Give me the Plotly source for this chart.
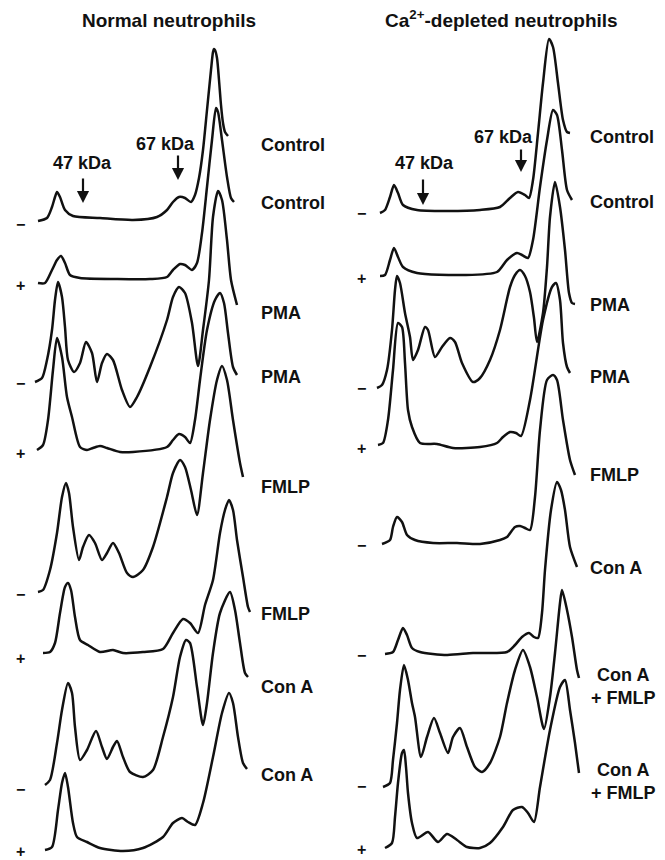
import plotly.graph_objects as go

# ---------------- data: densitometric scans (migration distance, absorbance above baseline) ----------------
# Normal neutrophils
L_labels = ["Control", "Control", "PMA", "PMA", "FMLP", "FMLP", "Con A", "Con A"]
L_signs = ["−", "+", "−", "+", "−", "+", "−", "+"]

L1_x = [38, 47, 52, 55, 57, 60, 65, 73, 100, 133, 157, 167, 173, 179, 185, 191, 195, 199, 203, 207, 211, 213, 214, 215, 217, 219, 221, 223, 225, 228]
L1_h = [0, 3, 14, 24, 29, 24, 11, 5, 3, 1, 4, 11, 19, 24, 23, 19, 26, 43, 71, 111, 151, 169, 172, 171, 163, 141, 116, 98, 89, 85]

L2_x = [38, 45, 52, 57, 61, 65, 70, 80, 117, 150, 167, 173, 180, 185, 192, 197, 202, 207, 212, 216, 218, 222, 227, 231, 234]
L2_h = [0, 0, 13, 23, 27, 20, 8, 5, 4, 4, 6, 13, 19, 18, 13, 20, 50, 96, 143, 175, 171, 143, 106, 85, 81]

L3_x = [35, 42, 47, 52, 55, 58, 62, 65, 68, 74, 80, 86, 92, 97, 102, 107, 113, 122, 130, 137, 150, 167, 173, 179, 185, 192, 198, 203, 209, 213, 218, 222, 227, 231, 237]
L3_h = [0, 4, 22, 52, 82, 100, 85, 55, 22, 10, 19, 40, 29, 0, 19, 28, 22, -8, -25, -15, 15, 62, 85, 95, 89, 59, 16, 52, 102, 165, 191, 182, 142, 102, 77]

L4_x = [37, 43, 48, 53, 57, 62, 67, 72, 80, 87, 93, 100, 107, 120, 133, 167, 173, 179, 185, 190, 195, 200, 207, 215, 220, 224, 228, 233, 237]
L4_h = [0, 5, 30, 80, 112, 93, 53, 33, 3, 0, 2, 4, 2, -2, -2, 3, 10, 16, 13, 7, 30, 70, 120, 150, 157, 147, 117, 83, 75]

L5_x = [38, 43, 50, 57, 62, 66, 69, 73, 79, 83, 89, 95, 102, 107, 113, 119, 127, 133, 143, 153, 167, 173, 180, 185, 191, 197, 203, 210, 217, 222, 227, 233, 240, 243]
L5_h = [0, 2, 22, 59, 95, 109, 99, 65, 32, 45, 57, 49, 32, 39, 49, 39, 19, 15, 22, 45, 95, 119, 132, 125, 102, 77, 119, 172, 212, 226, 212, 172, 129, 115]

L6_x = [43, 50, 55, 60, 65, 68, 71, 75, 80, 88, 100, 113, 123, 143, 163, 173, 183, 190, 198, 205, 213, 220, 225, 229, 233, 237, 243, 248, 250]
L6_h = [0, 1, 10, 40, 66, 70, 63, 36, 13, 8, 1, 3, 0, 1, 4, 20, 34, 30, 20, 48, 73, 120, 143, 153, 143, 113, 76, 46, 41]

L7_x = [45, 50, 57, 62, 68, 72, 75, 80, 87, 96, 102, 107, 113, 117, 123, 130, 143, 153, 163, 173, 180, 186, 190, 197, 203, 207, 213, 220, 230, 235, 240, 245, 248]
L7_h = [0, 5, 42, 75, 102, 92, 58, 25, 35, 54, 38, 26, 38, 44, 28, 13, 8, 15, 48, 88, 128, 145, 142, 98, 60, 82, 132, 172, 193, 175, 142, 112, 108]

L8_x = [45, 52, 58, 62, 65, 68, 73, 77, 87, 100, 123, 143, 163, 173, 182, 188, 195, 203, 213, 222, 229, 233, 238, 243, 247]
L8_h = [0, 3, 40, 67, 77, 63, 27, 13, 8, 2, -1, 2, 13, 27, 32, 28, 25, 47, 93, 137, 157, 147, 113, 87, 81]

# Ca2+-depleted neutrophils
R_labels = ["Control", "Control", "PMA", "PMA", "FMLP", "Con A", "Con A<br>+ FMLP", "Con A<br>+ FMLP"]
R_signs = ["−", "+", "−", "+", "−", "−", "−", "+"]

R1_x = [50, 55, 60, 64, 68, 73, 87, 117, 150, 170, 180, 188, 195, 199, 203, 208, 213, 219, 223, 228, 233, 237, 240]
R1_h = [0, 3, 16, 28, 20, 8, 3, 2, 3, 6, 15, 21, 18, 15, 33, 80, 130, 174, 166, 130, 93, 81, 80]

R2_x = [50, 55, 60, 64, 68, 73, 87, 133, 167, 177, 187, 192, 198, 203, 210, 217, 223, 227, 232, 237, 242]
R2_h = [0, 1, 16, 28, 19, 9, 3, 1, 4, 16, 23, 21, 18, 36, 89, 136, 166, 161, 126, 86, 76]

R3_x = [47, 52, 57, 62, 65, 67, 70, 75, 80, 83, 88, 95, 98, 105, 112, 120, 125, 132, 143, 150, 160, 170, 180, 185, 190, 195, 200, 204, 207, 213, 217, 220, 225, 230, 235, 239, 242, 245]
R3_h = [0, 3, 18, 58, 98, 112, 105, 75, 51, 28, 38, 61, 58, 31, 41, 50, 46, 25, 6, 10, 28, 58, 101, 113, 118, 112, 96, 70, 46, 75, 121, 171, 206, 181, 138, 95, 85, 84]

R4_x = [48, 53, 58, 63, 68, 72, 75, 78, 82, 90, 107, 123, 150, 167, 173, 180, 186, 191, 200, 213, 222, 226, 230, 233, 237, 240]
R4_h = [0, 2, 25, 75, 122, 118, 82, 35, 18, 2, 1, -3, -2, 2, 8, 13, 12, 9, 45, 125, 158, 162, 145, 102, 78, 72]

R5_x = [52, 60, 63, 67, 72, 77, 85, 103, 127, 150, 170, 177, 185, 190, 195, 200, 205, 210, 217, 223, 227, 233, 240, 245]
R5_h = [0, 4, 17, 27, 22, 9, 4, 1, 1, 0, 4, 7, 17, 18, 16, 14, 47, 114, 164, 169, 164, 124, 84, 69]

R6_x = [55, 63, 68, 73, 77, 82, 90, 117, 143, 177, 185, 192, 199, 204, 208, 212, 215, 221, 227, 231, 235, 240, 247]
R6_h = [0, 2, 14, 26, 19, 6, 2, -1, 1, 2, 9, 17, 21, 17, 16, 41, 84, 144, 172, 164, 144, 107, 87]

R7_x = [53, 60, 63, 67, 70, 74, 78, 82, 85, 91, 97, 104, 110, 118, 123, 130, 137, 145, 152, 160, 170, 177, 185, 193, 200, 207, 214, 220, 225, 230, 232, 237, 242, 247, 249]
R7_h = [0, 4, 27, 64, 97, 122, 107, 84, 70, 30, 50, 69, 54, 34, 50, 59, 40, 20, 15, 24, 50, 84, 117, 137, 120, 90, 58, 90, 134, 184, 197, 177, 150, 117, 109]

R8_x = [55, 62, 65, 68, 72, 74, 76, 78, 82, 87, 98, 108, 117, 127, 137, 150, 160, 173, 183, 192, 198, 204, 210, 220, 230, 235, 240, 245, 249]
R8_h = [0, 5, 31, 65, 95, 98, 81, 55, 25, 10, 16, 6, 14, 8, 1, 0, 5, 21, 38, 41, 35, 26, 61, 118, 161, 168, 138, 105, 75]

L_x = [L1_x, L2_x, L3_x, L4_x, L5_x, L6_x, L7_x, L8_x]
L_h = [L1_h, L2_h, L3_h, L4_h, L5_h, L6_h, L7_h, L8_h]
R_x = [R1_x, R2_x, R3_x, R4_x, R5_x, R6_x, R7_x, R8_x]
R_h = [R1_h, R2_h, R3_h, R4_h, R5_h, R6_h, R7_h, R8_h]

# ---------------- layout (stacking offsets and label placement) ----------------
L_base = [221, 283, 382, 450, 592, 653, 785, 850]
R_base = [213, 276, 388, 445, 544, 654, 787, 848]
L_sign_y = [224, 285, 383, 453, 594, 658, 789, 851]
R_sign_y = [213, 278, 388, 448, 545, 655, 786, 849]
L_label_y = [145, 203, 313, 377, 487, 614, 687, 775]
R_label_y = [137, 202, 305, 377, 475, 568, 686, 781]

FONT = "Liberation Sans, Arial, Helvetica, sans-serif"
INK = "#111111"
PAGE_MARGIN = 8  # default body margin of the html page

fig = go.Figure()
for xs, hs, b in zip(L_x, L_h, L_base):
    fig.add_trace(go.Scatter(x=xs, y=[b - h for h in hs], mode="lines",
                             line=dict(color=INK, width=2.5, shape="spline", smoothing=0.7),
                             xaxis="x", yaxis="y", hoverinfo="skip", showlegend=False))
for xs, hs, b in zip(R_x, R_h, R_base):
    fig.add_trace(go.Scatter(x=xs, y=[b - h for h in hs], mode="lines",
                             line=dict(color=INK, width=2.5, shape="spline", smoothing=0.7),
                             xaxis="x2", yaxis="y", hoverinfo="skip", showlegend=False))

ann = []
def txt(xref, x, y, s, size=18, xanchor="left"):
    ann.append(dict(xref=xref, yref="y", x=x, y=y, text=s, showarrow=False,
                    xanchor=xanchor, yanchor="middle", align="center",
                    font=dict(family=FONT, size=size, color=INK, weight="bold")))

def arrow(xref, x, y0, y1):
    ann.append(dict(xref=xref, yref="y", axref=xref, ayref="y", x=x, y=y1, ax=x, ay=y0,
                    text="", showarrow=True, arrowhead=2, arrowsize=1.1, arrowwidth=2.2,
                    arrowcolor=INK, standoff=0, startstandoff=0))

# titles
txt("x", 169, 20, "Normal neutrophils", size=19, xanchor="center")
txt("x2", 171, 19, "Ca<sup>2+</sup>-depleted neutrophils", size=19, xanchor="center")

# molecular weight markers
txt("x", 82, 163, "47 kDa", size=18, xanchor="center")
txt("x", 165, 144, "67 kDa", size=18, xanchor="center")
arrow("x", 83, 177, 203)
arrow("x", 178, 154, 180)
txt("x2", 94, 163, "47 kDa", size=18, xanchor="center")
txt("x2", 173, 137, "67 kDa", size=18, xanchor="center")
arrow("x2", 93, 178, 205)
arrow("x2", 191, 148, 172)

# treatment labels and +/- signs
for lab, y in zip(L_labels, L_label_y):
    txt("x", 259, y, lab)
for lab, y in zip(R_labels, R_label_y):
    if "<br>" in lab:
        txt("x2", 293, y, lab, xanchor="center")
    else:
        txt("x2", 258, y, lab)
for s, y in zip(L_signs, L_sign_y):
    txt("x", 20, y, s, size=16, xanchor="center")
for s, y in zip(R_signs, R_sign_y):
    txt("x2", 31, y, s, size=16, xanchor="center")

W, H = 665, 860
split = 330
fig.update_layout(
    width=W - PAGE_MARGIN, height=H - PAGE_MARGIN, margin=dict(l=0, r=0, t=0, b=0),
    paper_bgcolor="white", plot_bgcolor="white",
    xaxis=dict(domain=[0, (split - PAGE_MARGIN) / (W - PAGE_MARGIN)], range=[PAGE_MARGIN, split], visible=False),
    xaxis2=dict(domain=[(split - PAGE_MARGIN) / (W - PAGE_MARGIN), 1], range=[0, W - split], visible=False),
    yaxis=dict(domain=[0, 1], range=[H, PAGE_MARGIN], visible=False),
    annotations=ann,
)

fig.write_html("out.html")
